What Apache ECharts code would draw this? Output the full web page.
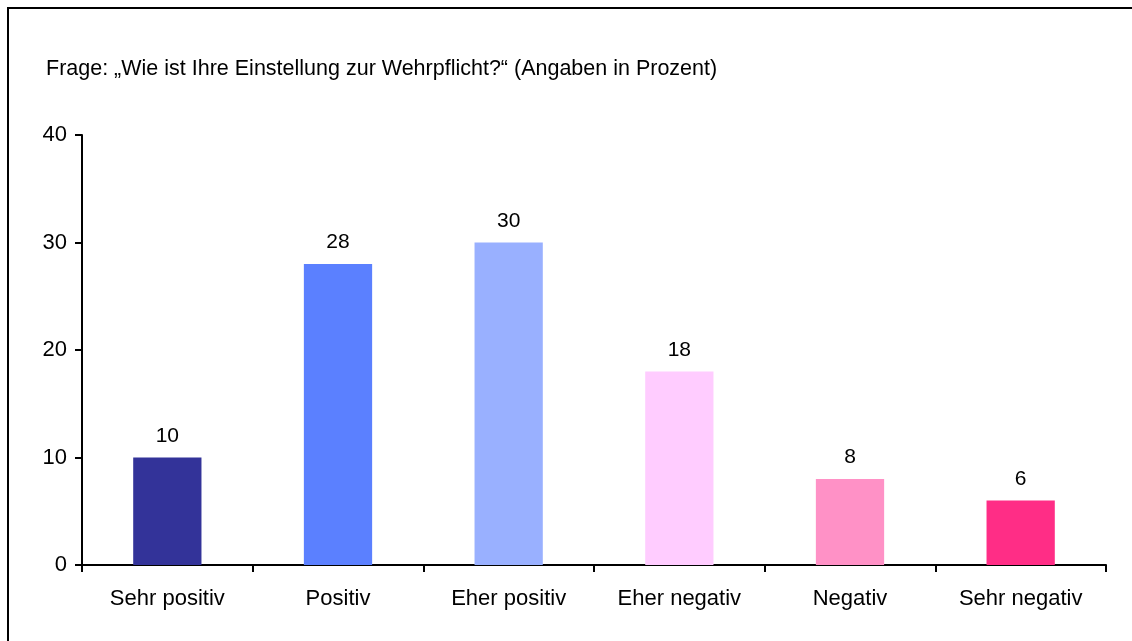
<!DOCTYPE html>
<html>
<head>
<meta charset="utf-8">
<script src="https://cdn.jsdelivr.net/npm/echarts@6/dist/echarts.min.js"></script>
<style>
    html, body { margin: 0; padding: 0; background: #fff; }
    #chart { width: 1132px; height: 641px; }
</style>
</head>
<body>
<div id="chart"></div>
<script>
    // Antworten und Anteile in Prozent
    var categories = ['Sehr positiv', 'Positiv', 'Eher positiv', 'Eher negativ', 'Negativ', 'Sehr negativ'];
    var values = [10, 28, 30, 18, 8, 6];
    var barColors = ['#333399', '#5b80ff', '#99b0ff', '#ffccff', '#ff91c6', '#ff2d86'];
    var titleText = 'Frage: \u201EWie ist Ihre Einstellung zur Wehrpflicht?\u201C (Angaben in Prozent)';

    var fontFam = 'Liberation Sans, Arial, sans-serif';

    var barData = [];
    for (var i = 0; i < values.length; i++) {
        barData.push({ value: values[i], itemStyle: { color: barColors[i] } });
    }

    var option = {
        animation: false,
        backgroundColor: '#fff',
        title: {
            text: titleText,
            left: 46,
            top: 58,
            padding: 0,
            textStyle: { fontFamily: fontFam, fontSize: 21.5, fontWeight: 'normal', color: '#000' }
        },
        graphic: [
            {
                type: 'polyline',
                shape: { points: [[8, 641], [8, 8], [1132, 8]] },
                style: { stroke: '#000', lineWidth: 2, fill: null }
            }
        ],
        grid: { left: 82, right: 26, top: 135, bottom: 76 },
        xAxis: {
            type: 'category',
            data: categories,
            axisLine: { lineStyle: { color: '#000', width: 2 } },
            axisTick: { show: true, length: 7, inside: false, lineStyle: { color: '#000', width: 2 } },
            axisLabel: { color: '#000', fontFamily: fontFam, fontSize: 22, margin: 23 }
        },
        yAxis: {
            type: 'value',
            min: 0,
            max: 40,
            interval: 10,
            axisLine: { show: true, lineStyle: { color: '#000', width: 2 } },
            axisTick: { show: true, length: 7, lineStyle: { color: '#000', width: 2 } },
            splitLine: { show: false },
            axisLabel: { color: '#000', fontFamily: fontFam, fontSize: 22, margin: 15 }
        },
        series: [
            {
                type: 'bar',
                barWidth: '40%',
                data: barData,
                label: {
                    show: true,
                    position: 'top',
                    distance: 11,
                    color: '#000',
                    fontFamily: fontFam,
                    fontSize: 21
                }
            }
        ]
    };

    var chart = echarts.init(document.getElementById('chart'));
    chart.setOption(option);
</script>
</body>
</html>
